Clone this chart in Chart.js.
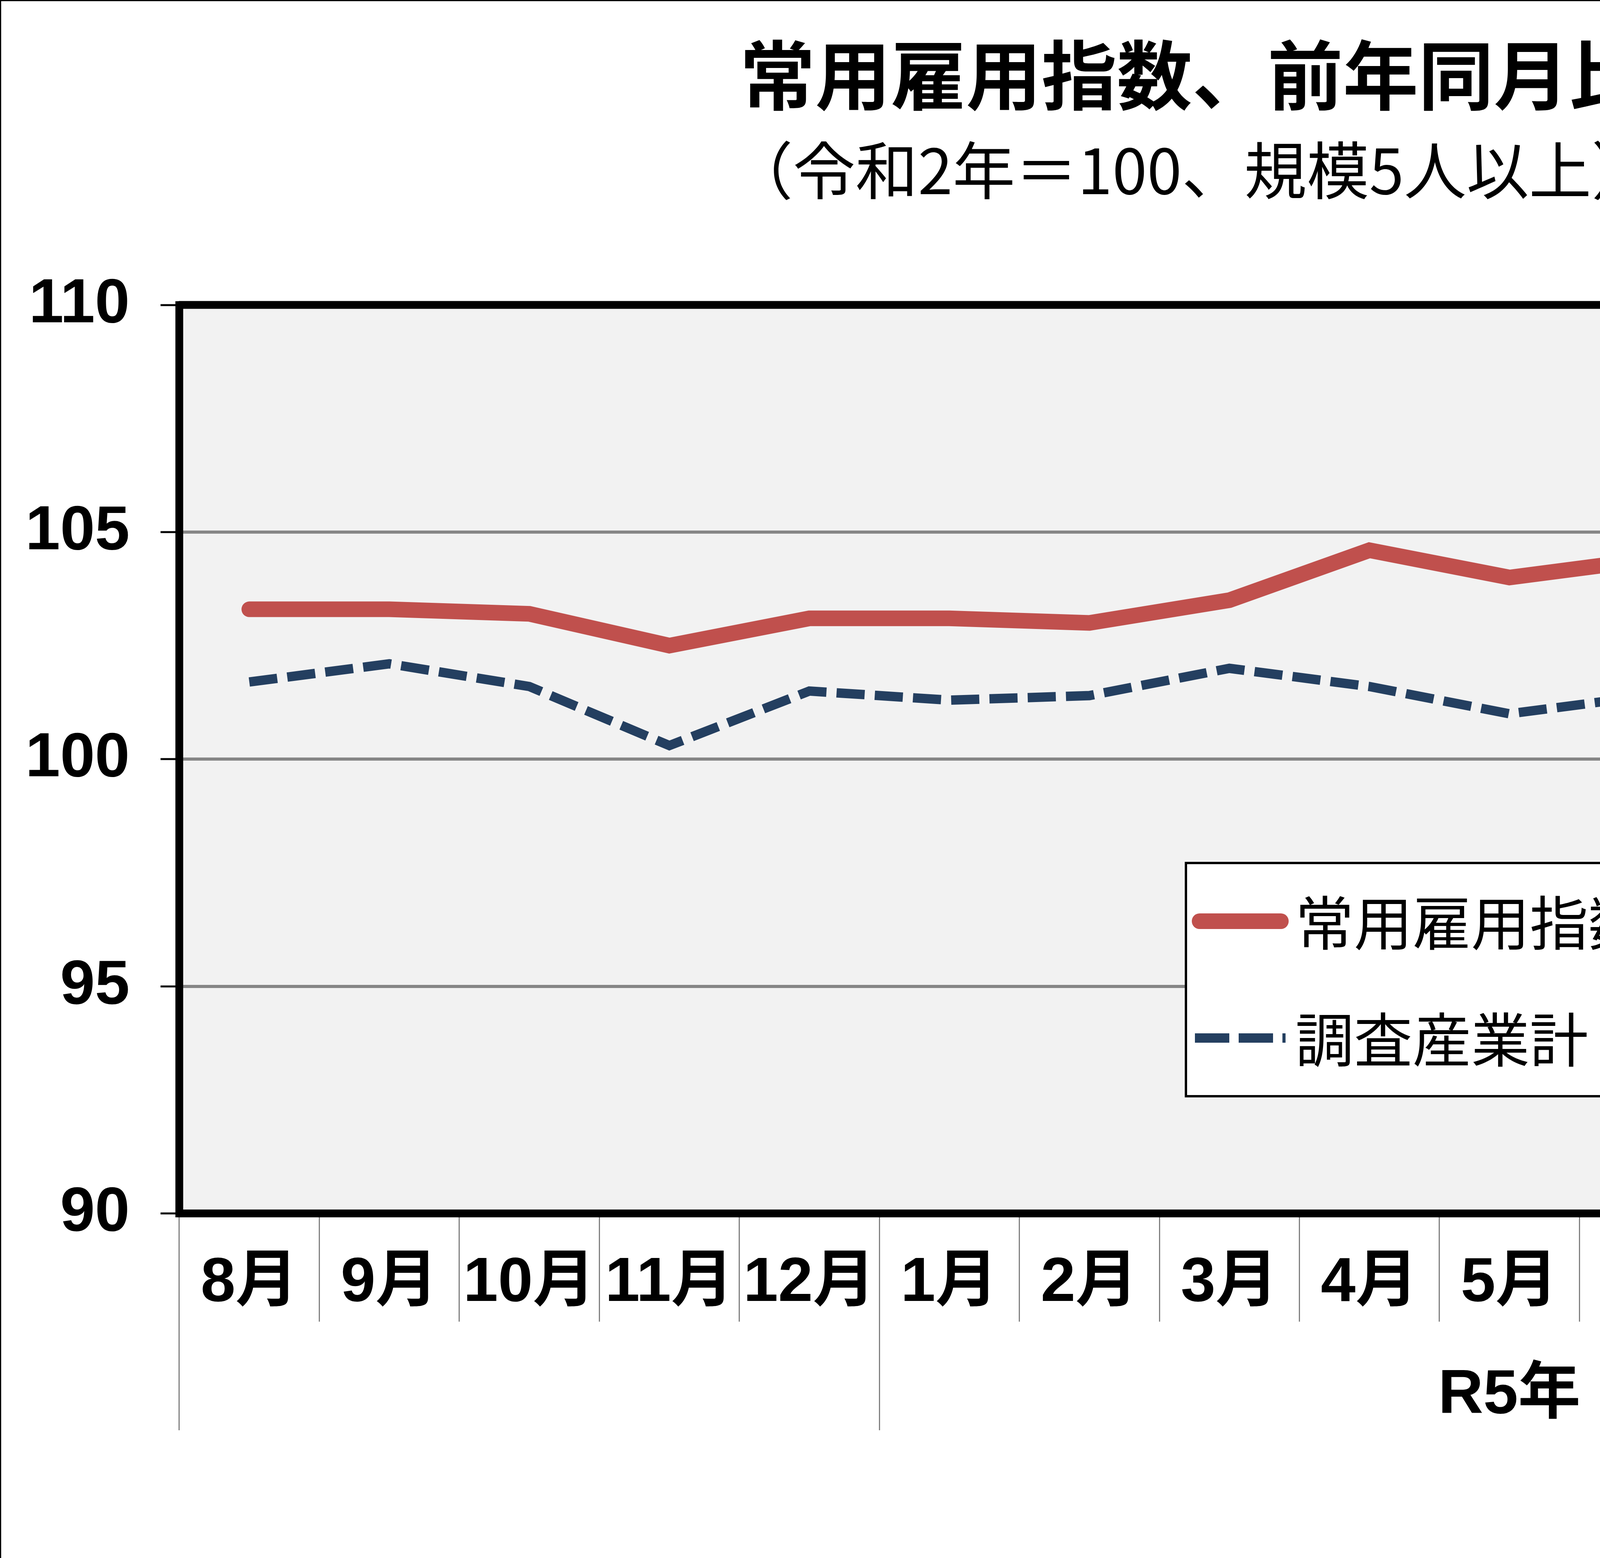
<!DOCTYPE html>
<html lang="ja">
<head>
<meta charset="utf-8">
<title>常用雇用指数、前年同月比</title>
<script src="https://cdn.jsdelivr.net/npm/chart.js@4.4.1/dist/chart.umd.min.js"></script>
<style>
html, body { margin: 0; padding: 0; background: #fff; overflow: hidden; }
canvas { display: block; }
</style>
</head>
<body>
<canvas id="chart" width="6104" height="3988"></canvas>
<script>
"use strict";
// categories (R4.8 - R5.9)
const months = ['8月', '9月', '10月', '11月', '12月', '1月', '2月', '3月', '4月', '5月', '6月', '7月', '8月', '9月'];
const yearLabels = ['', '', '', '', '', '', '', '', '', 'R5年', '', '', '', ''];
const yearBreaks = [0, 5]; // group boundaries (index of first month in each group)

// series
const indexLabel = '常用雇用指数（調査産業計）';
const indexValues = [103.3, 103.3, 103.2, 102.5, 103.1, 103.1, 103.0, 103.5, 104.6, 104.0, 104.4, 103.5, 103.5, 103.4];
const yoyLabel = '調査産業計（前年同月比）';
const yoyValues = [1.7, 2.1, 1.6, 0.3, 1.5, 1.3, 1.4, 2.0, 1.6, 1.0, 1.4, 0.6, 0.2, 0.1];

// tick labels
const indexTicks = [90, 95, 100, 105, 110];
const pctTicks = [-10, -5, 0, 5, 10];

const NUM_FONT = '"Liberation Sans", Arial, "Noto Sans CJK JP", sans-serif';
const CJK_FONT = '"Noto Sans CJK JP", "Noto Sans CJK SC", sans-serif';
const RED = '#C0504D';
const NAVY = '#243F60';

const chartDecor = {
    id: 'chartDecor',
    beforeDraw(chart) {
        const ctx = chart.ctx;
        const a = chart.chartArea;
        ctx.save();
        ctx.fillStyle = '#ffffff';
        ctx.fillRect(0, 0, chart.width, chart.height);
        // thin outer frame (top / left only visible)
        ctx.strokeStyle = '#000000';
        ctx.lineWidth = 3;
        ctx.beginPath();
        ctx.moveTo(1.5, chart.height);
        ctx.lineTo(1.5, 1.5);
        ctx.lineTo(chart.width, 1.5);
        ctx.stroke();
        ctx.fillStyle = '#f2f2f2';
        ctx.fillRect(a.left, a.top, a.right - a.left, a.bottom - a.top);
        ctx.restore();
    },
    afterDraw(chart, args, opts) {
        const ctx = chart.ctx;
        const a = chart.chartArea;
        ctx.save();
        // plot frame
        ctx.strokeStyle = '#000000';
        ctx.lineWidth = 20;
        ctx.lineJoin = 'round';
        ctx.strokeRect(a.left, a.top, a.right - a.left, a.bottom - a.top);

        // legend box
        const lg = opts.legend;
        ctx.fillStyle = '#ffffff';
        ctx.fillRect(lg.left, lg.top, lg.width, lg.height);
        ctx.lineWidth = 6;
        ctx.lineJoin = 'miter';
        ctx.strokeRect(lg.left, lg.top, lg.width, lg.height);
        const ds = chart.data.datasets;
        ctx.font = 'normal 150px ' + CJK_FONT;
        ctx.textBaseline = 'middle';
        ctx.textAlign = 'left';
        for (let i = 0; i < ds.length; i++) {
            const y = lg.top + lg.rows[i];
            ctx.beginPath();
            ctx.strokeStyle = ds[i].borderColor;
            ctx.lineWidth = ds[i].borderWidth;
            if (ds[i].borderDash) {
                ctx.setLineDash([88, 24]);
                ctx.lineCap = 'butt';
                ctx.moveTo(lg.left + 23, y);
                ctx.lineTo(lg.left + 255, y);
            } else {
                ctx.setLineDash([]);
                ctx.lineCap = 'round';
                ctx.moveTo(lg.left + 35, y);
                ctx.lineTo(lg.left + 243, y);
            }
            ctx.stroke();
            ctx.setLineDash([]);
            ctx.fillStyle = '#000000';
            ctx.fillText(ds[i].label, lg.left + 280, y + 4);
        }

        // unit of the right axis
        const r = chart.scales.y1;
        ctx.font = 'bold 160px ' + NUM_FONT;
        ctx.textAlign = 'center';
        ctx.fillText('%', r.left + 186, a.top - 326);
        ctx.restore();
    }
};

const boundaryColor = (ctx) => {
    if (ctx.index === undefined || yearBreaks.indexOf(ctx.index) >= 0) {
        return '#808080';
    }
    return 'rgba(0,0,0,0)';
};

const config = {
    type: 'line',
    data: {
        labels: months,
        datasets: [
            {
                label: indexLabel,
                data: indexValues,
                yAxisID: 'y',
                xAxisID: 'x',
                borderColor: RED,
                backgroundColor: RED,
                borderWidth: 40,
                borderCapStyle: 'round',
                borderJoinStyle: 'miter',
                pointRadius: 0,
                tension: 0,
                order: 1
            },
            {
                label: yoyLabel,
                data: yoyValues,
                yAxisID: 'y1',
                xAxisID: 'x',
                borderColor: NAVY,
                backgroundColor: NAVY,
                borderWidth: 24,
                borderDash: [72, 26],
                borderCapStyle: 'butt',
                borderJoinStyle: 'miter',
                pointRadius: 0,
                tension: 0,
                order: 2
            }
        ]
    },
    options: {
        responsive: false,
        devicePixelRatio: 1,
        animation: false,
        events: [],
        layout: {
            padding: { left: 0, right: 0, top: 0, bottom: 205 }
        },
        plugins: {
            legend: { display: false },
            tooltip: { enabled: false },
            title: {
                display: true,
                text: '常用雇用指数、前年同月比',
                color: '#000000',
                font: { family: CJK_FONT, size: 193, weight: 'bold' },
                padding: { top: 77, bottom: 32 }
            },
            subtitle: {
                display: true,
                text: '（令和2年＝100、規模5人以上）',
                color: '#000000',
                font: { family: CJK_FONT, size: 160, weight: 'normal' },
                padding: { top: 0, bottom: 248 }
            },
            chartDecor: {
                legend: { left: 3036, top: 2209, width: 2296, height: 597, rows: [149, 448] }
            }
        },
        scales: {
            x: {
                type: 'category',
                position: 'bottom',
                weight: 0,
                offset: true,
                grid: {
                    offset: true,
                    drawOnChartArea: false,
                    drawTicks: true,
                    tickLength: 277,
                    tickColor: '#808080',
                    tickWidth: 3,
                    lineWidth: 3
                },
                border: { display: true, color: '#000000', width: 20 },
                ticks: {
                    autoSkip: false,
                    maxRotation: 0,
                    minRotation: 0,
                    padding: -193,
                    color: '#000000',
                    font: { family: NUM_FONT, size: 160, weight: 'bold' }
                },
                afterFit(scale) { scale.height = 277; }
            },
            x2: {
                type: 'category',
                position: 'bottom',
                weight: 1,
                labels: yearLabels,
                min: 0,
                max: yearLabels.length - 1,
                offset: true,
                grid: {
                    offset: true,
                    drawOnChartArea: false,
                    drawTicks: true,
                    tickLength: 278,
                    tickColor: boundaryColor,
                    color: boundaryColor,
                    tickWidth: 3,
                    lineWidth: 3
                },
                border: { display: false },
                ticks: {
                    autoSkip: false,
                    maxRotation: 0,
                    minRotation: 0,
                    padding: -184,
                    color: '#000000',
                    font: { family: NUM_FONT, size: 160, weight: 'bold' }
                },
                afterFit(scale) { scale.height = 400; }
            },
            y: {
                type: 'linear',
                position: 'left',
                min: indexTicks[0],
                max: indexTicks[indexTicks.length - 1],
                afterBuildTicks(scale) {
                    scale.ticks = indexTicks.map(v => ({ value: v }));
                },
                grid: {
                    drawOnChartArea: true,
                    color: '#868686',
                    lineWidth: 8,
                    drawTicks: true,
                    tickLength: 48,
                    tickColor: '#000000',
                    tickWidth: 5
                },
                border: { display: true, color: '#000000', width: 20 },
                ticks: {
                    padding: 79,
                    color: '#000000',
                    font: { family: NUM_FONT, size: 160, weight: 'bold' }
                },
                afterFit(scale) { scale.width = 459; }
            },
            y1: {
                type: 'linear',
                position: 'right',
                min: pctTicks[0],
                max: pctTicks[pctTicks.length - 1],
                afterBuildTicks(scale) {
                    scale.ticks = pctTicks.map(v => ({ value: v }));
                },
                grid: {
                    drawOnChartArea: false,
                    drawTicks: true,
                    tickLength: 48,
                    tickColor: '#000000',
                    tickWidth: 5
                },
                border: { display: true, color: '#000000', width: 20 },
                ticks: {
                    padding: 85,
                    color: '#000000',
                    font: { family: NUM_FONT, size: 160, weight: 'bold' },
                    callback: (v) => (v < 0 ? '\u2212' + Math.abs(v) : String(v))
                },
                afterFit(scale) { scale.width = 627; }
            }
        }
    },
    plugins: [chartDecor]
};

const theChart = new Chart(document.getElementById('chart'), config);
</script>
</body>
</html>
